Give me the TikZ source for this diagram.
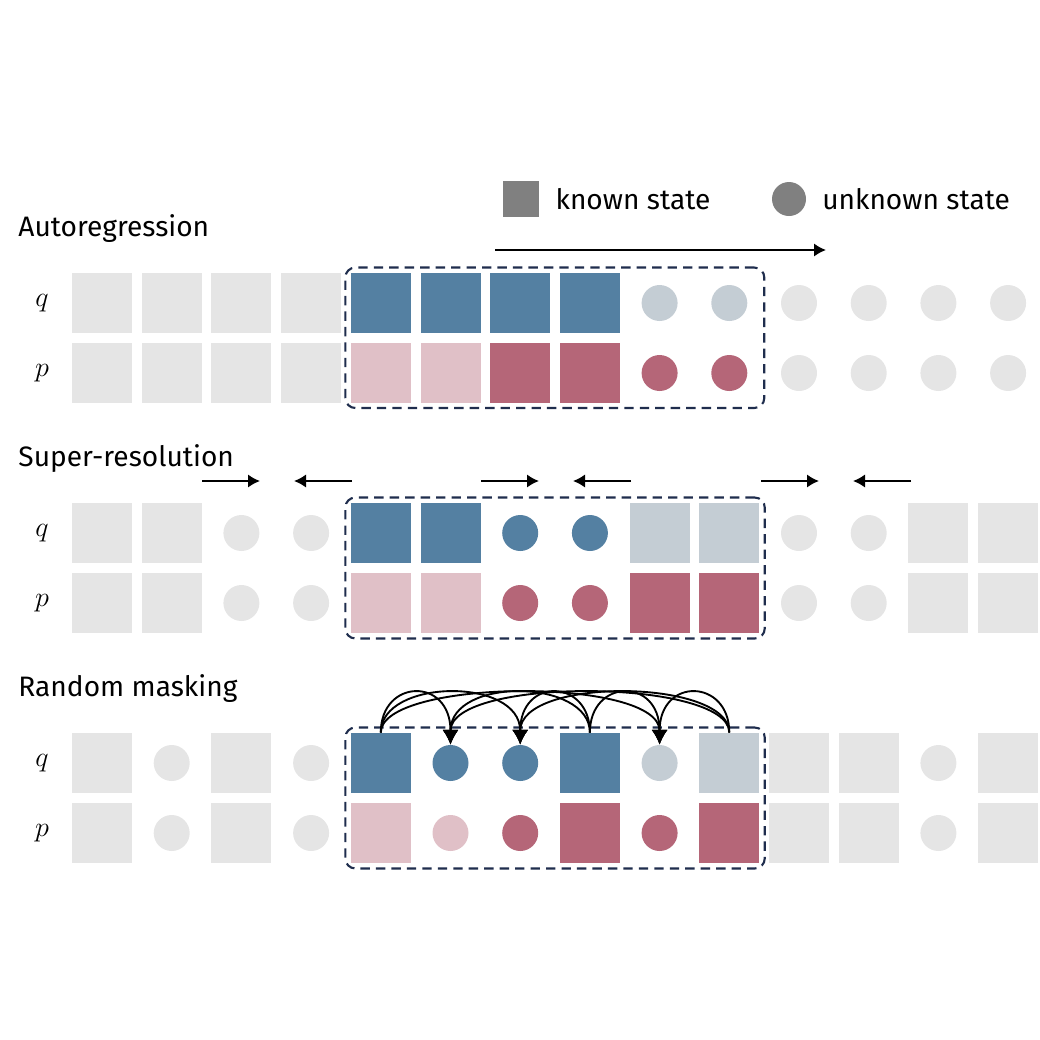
\documentclass[tikz,border=0pt]{standalone}
\usepackage{amsmath}
\usepackage{fontspec}
\setmainfont{Fira Sans}
\usetikzlibrary{arrows.meta, positioning, fit, calc}
\definecolor{qdark}{HTML}{5480A2}
\definecolor{qlight}{HTML}{C4CDD4}
\definecolor{pdark}{HTML}{B56678}
\definecolor{plight}{HTML}{E0C0C7}
\definecolor{pale}{HTML}{E5E5E5}
\definecolor{navy}{HTML}{1F2D4D}
\tikzset{%
	known/.style={rectangle, minimum size=9mm, inner sep=0mm},
	unknown/.style={circle, minimum size=5.4mm, inner sep=0mm},
	window/.style={draw=navy, dashed, line width=0.9pt, rounded corners=1.5mm,%
		inner sep=0.75mm, dash pattern=on 4pt off 2.6pt},
	title/.style={anchor=west, inner sep=0mm, font=\fontsize{12}{14}\selectfont},
	rowlabel/.style={inner sep=0mm, font=\fontsize{13}{15}\selectfont},
	flow/.style={-{Latex[length=1.8mm, width=2mm]}, thick},
	link/.style={-{Latex[length=2.2mm, width=2.4mm]}, thick}
}

\begin{document}
\begin{tikzpicture}[x=0.15mm, y=-0.15mm]
	\useasboundingbox (0,0) rectangle (1040,1040);

	%legend
	\node [known, fill=black!50, minimum size=5.5mm] (key-k) at (521,199) {};
	\node [title, right=2.3mm of key-k] (key-kt) {known state};
	\node [unknown, fill=black!50, minimum size=5.1mm] (key-u) at (789,199) {};
	\node [title, right=2.3mm of key-u] (key-ut) {unknown state};

	%titles
	\node [title] (ar) at (18,229) {Autoregression};
	\node [title] (sr) at (18,459) {Super-resolution};
	\node [title] (rm) at (18,689) {Random masking};

	%row labels
	\foreach \y/\n in {303/q, 533/q, 763/q, 373/p, 603/p, 833/p}
		\node [rowlabel] (lab-\n\y) at (42,\y) {$\n$};

	%autoregression
	\foreach \s/\c [count=\i] in {known/pale, known/pale, known/pale, known/pale,
		known/qdark, known/qdark, known/qdark, known/qdark, unknown/qlight, unknown/qlight,
		unknown/pale, unknown/pale, unknown/pale, unknown/pale}
		\node [\s, fill=\c] (arq\i) at ({102+(\i-1)*69.7},303) {};
	\foreach \s/\c [count=\i] in {known/pale, known/pale, known/pale, known/pale,
		known/plight, known/plight, known/pdark, known/pdark, unknown/pdark, unknown/pdark,
		unknown/pale, unknown/pale, unknown/pale, unknown/pale}
		\node [\s, fill=\c] (arp\i) at ({102+(\i-1)*69.7},373) {};
	\node [window, fit={(arq5) ($(arp10)+(30,30)$)}] (arwin) {};
	\coordinate (ar-from) at (495,250);
	\coordinate (ar-to) at (826,250);
	\draw [flow] (ar-from) -- (ar-to);

	%super-resolution
	\foreach \s/\c [count=\i] in {known/pale, known/pale, unknown/pale, unknown/pale,
		known/qdark, known/qdark, unknown/qdark, unknown/qdark, known/qlight, known/qlight,
		unknown/pale, unknown/pale, known/pale, known/pale}
		\node [\s, fill=\c] (srq\i) at ({102+(\i-1)*69.7},533) {};
	\foreach \s/\c [count=\i] in {known/pale, known/pale, unknown/pale, unknown/pale,
		known/plight, known/plight, unknown/pdark, unknown/pdark, known/pdark, known/pdark,
		unknown/pale, unknown/pale, known/pale, known/pale}
		\node [\s, fill=\c] (srp\i) at ({102+(\i-1)*69.7},603) {};
	\node [window, fit=(srq5) (srp10)] (srwin) {};
	\foreach \a [count=\i] in {202, 481, 761} {
		\coordinate (sr-l\i) at (\a,481);
		\coordinate (sr-r\i) at (\a+150,481);
		\draw [flow] (sr-l\i) -- ++(58,0);
		\draw [flow] (sr-r\i) -- ++(-58,0);
	}

	%random masking
	\foreach \s/\c [count=\i] in {known/pale, unknown/pale, known/pale, unknown/pale,
		known/qdark, unknown/qdark, unknown/qdark, known/qdark, unknown/qlight, known/qlight,
		known/pale, known/pale, unknown/pale, known/pale}
		\node [\s, fill=\c] (rmq\i) at ({102+(\i-1)*69.7},763) {};
	\foreach \s/\c [count=\i] in {known/pale, unknown/pale, known/pale, unknown/pale,
		known/plight, unknown/plight, unknown/pdark, known/pdark, unknown/pdark, known/pdark,
		known/pale, known/pale, unknown/pale, known/pale}
		\node [\s, fill=\c] (rmp\i) at ({102+(\i-1)*69.7},833) {};
	\node [window, fit=(rmq5) (rmp10)] (rmwin) {};
	\foreach \s in {5,8,10}
		\foreach \t in {6,7,9}
			\draw [link] (rmq\s.north) .. controls +(0,-54) and +(0,-68) .. (rmq\t.north);

\end{tikzpicture}
\end{document}
